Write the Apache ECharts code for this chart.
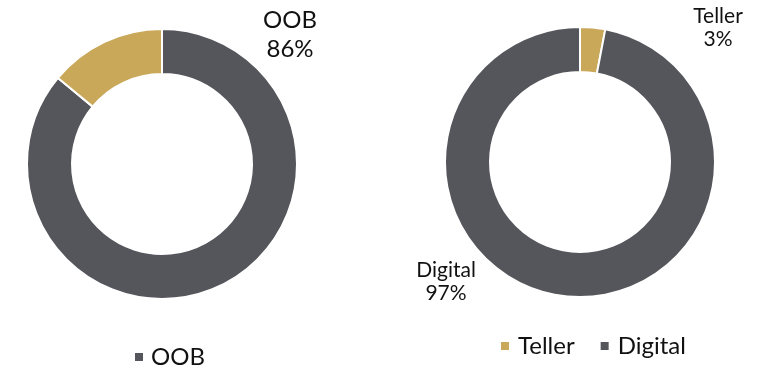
<!DOCTYPE html>
<html>
<head>
<meta charset="utf-8">
<script src="https://cdn.jsdelivr.net/npm/echarts@6/dist/echarts.min.js"></script>
<style>
  html, body { margin: 0; padding: 0; background: #fff; }
  #chart { width: 768px; height: 369px; }
</style>
</head>
<body>
<div id="chart"></div>
<script>
// Left donut: share of OOB
const leftNames = ['OOB', 'Other'];
const leftValues = [86, 14];
// Right donut: Teller vs Digital
const rightNames = ['Teller', 'Digital'];
const rightValues = [3, 97];

const GOLD = '#c9a85a';
const DARK = '#55565b';
const FONT = 'Lato, "Noto Sans", sans-serif';

const chart = echarts.init(document.getElementById('chart'), null, { renderer: 'canvas' });

const toData = (names, values, colors) =>
  names.map((n, i) => ({ name: n, value: values[i], itemStyle: { color: colors[i] } }));

chart.setOption({
  animation: false,
  legend: [
    {
      data: ['OOB'],
      left: 133, top: 345,
      padding: 0,
      icon: 'rect', itemWidth: 10, itemHeight: 10,
      textStyle: { fontFamily: FONT, fontSize: 24, color: '#111', padding: [0, 0, 0, 2] }
    },
    {
      data: rightNames,
      left: 499, top: 334,
      padding: 0,
      itemGap: 24,
      icon: 'rect', itemWidth: 10, itemHeight: 10,
      textStyle: { fontFamily: FONT, fontSize: 24, color: '#111', padding: [0, 0, 0, 3] }
    }
  ],
  series: [
    {
      type: 'pie',
      center: [162, 164],
      radius: [90, 135],
      startAngle: 90,
      clockwise: true,
      avoidLabelOverlap: false,
      itemStyle: { borderColor: '#fff', borderWidth: 2 },
      label: {
        show: true,
        position: 'outside',
        formatter: p => p.dataIndex === 0 ? p.name + '\n' + Math.round(p.percent) + '%' : '',
        fontFamily: FONT, fontSize: 24, lineHeight: 29, color: '#111', align: 'center'
      },
      labelLine: { show: false },
      labelLayout: p => p.dataIndex === 0
        ? { x: 290, y: 35, align: 'center', verticalAlign: 'middle' }
        : {},
      data: toData(leftNames, leftValues, [DARK, GOLD])
    },
    {
      type: 'pie',
      center: [580, 162],
      radius: [90, 135],
      startAngle: 90,
      clockwise: true,
      avoidLabelOverlap: false,
      itemStyle: { borderColor: '#fff', borderWidth: 2 },
      label: {
        show: true,
        position: 'outside',
        formatter: p => p.name + '\n' + Math.round(p.percent) + '%',
        fontFamily: FONT, fontSize: 21, lineHeight: 23, color: '#111', align: 'center'
      },
      labelLine: { show: false },
      labelLayout: p => p.dataIndex === 0
        ? { x: 718, y: 28, align: 'center', verticalAlign: 'middle' }
        : { x: 446, y: 282, align: 'center', verticalAlign: 'middle' },
      data: toData(rightNames, rightValues, [GOLD, DARK])
    }
  ]
});
</script>
</body>
</html>
